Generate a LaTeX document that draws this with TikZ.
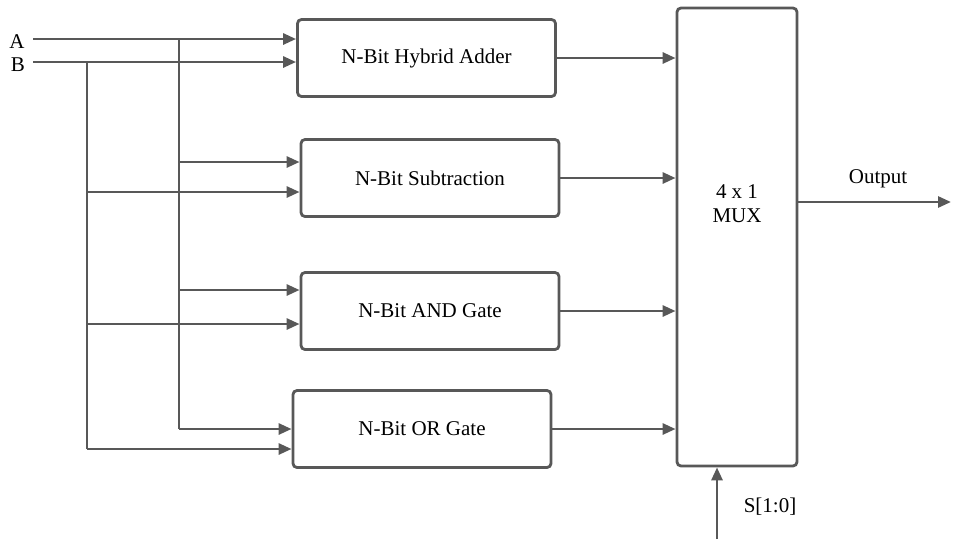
\documentclass[tikz,border=0pt]{standalone}
\usepackage{fontspec}
\setmainfont{Liberation Serif}
\newfontfamily\diagfont{Liberation Serif}
\usetikzlibrary{arrows.meta,positioning,calc}
\definecolor{wire}{RGB}{88,88,88}
\newcommand{\lblfont}{\diagfont\fontsize{21}{24}\selectfont}
\tikzset{
  blk/.style   = {draw=wire, rounded corners=4pt, line width=2.8pt,
                  minimum width=258pt, minimum height=77pt, inner sep=0pt,
                  font=\lblfont},
  muxblk/.style = {draw=wire, rounded corners=4pt, line width=2.8pt,
                  minimum width=120pt, minimum height=458pt, inner sep=0pt},
  sig/.style   = {draw=wire, line width=2.8pt},
  txt/.style   = {inner sep=0pt, font=\lblfont},
}

\begin{document}
\begin{tikzpicture}[x=1pt, y=-1pt, >={Triangle[length=13pt, width=11pt]}]
  \useasboundingbox (0,0) rectangle (953,539);

  % blocks
  \node[blk] (add) at (426.5,58) {N-Bit Hybrid Adder};
  \node[blk] (sub) at (430,178) {N-Bit Subtraction};
  \node[blk] (and) at (430,311) {N-Bit AND Gate};
  \node[blk] (or)  at (422,429) {N-Bit OR Gate};
  \node[muxblk] (mux) at (737,237) {};
  \node[txt, align=center] (muxlbl) at (737,204) {4 x 1\\MUX};

  % inputs
  \node[txt] (inA) at (17,42) {A};
  \node[txt] (inB) at (18,65) {B};
  \coordinate (a0) at (33,39);
  \coordinate (b0) at (33,62);
  \coordinate (abus) at (179,39);
  \coordinate (bbus) at (87,62);
  \draw[sig, ->] (a0) -- (a0 -| add.west);
  \draw[sig, ->] (b0) -- (b0 -| add.west);
  \draw[sig] (abus) -- (179,429);
  \draw[sig] (bbus) -- (87,449);
  \foreach \y/\n in {162/sub, 290/and, 429/or} {
    \coordinate (t) at (179,\y);
    \draw[sig, ->] (t) -- (t -| \n.west);
  }
  \foreach \y/\n in {192/sub, 324/and, 449/or} {
    \coordinate (t) at (87,\y);
    \draw[sig, ->] (t) -- (t -| \n.west);
  }

  % to mux
  \foreach \n in {add, sub, and, or}
    \draw[sig, ->] (\n.east) -- (\n.east -| mux.west);

  % output and select
  \coordinate (outend) at (951,202);
  \draw[sig, ->] (mux.east |- outend) -- (outend);
  \node[txt] (outlbl) at (878,179) {Output};
  \coordinate (sel) at (717,539);
  \draw[sig, ->] (sel) -- (sel |- mux.south);
  \node[txt] (sellbl) at (770,507) {S[1:0]};
\end{tikzpicture}
\end{document}
